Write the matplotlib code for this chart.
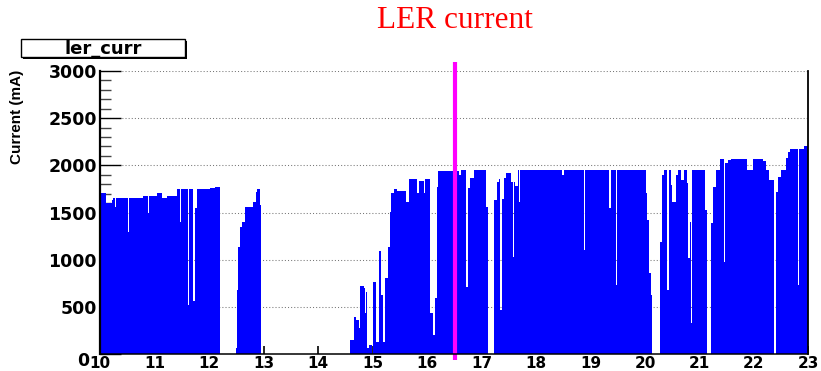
import matplotlib
matplotlib.use("Agg")
import matplotlib.pyplot as plt
from matplotlib import font_manager as fm
from matplotlib.patches import Rectangle
from matplotlib.ticker import MultipleLocator
from matplotlib.transforms import ScaledTranslation

# ---------------- data ----------------
# step-wise LER current: start hour of each step and current (mA) held until the next step
hours = [
    10.00, 10.105, 10.21, 10.233, 10.27, 10.288, 10.362, 10.509, 10.528, 10.785,
    10.877, 10.895, 10.95, 11.042, 11.134, 11.226, 11.41, 11.465, 11.483, 11.612,
    11.63, 11.704, 11.73, 11.778, 12.017, 12.108, 12.20,
    12.489, 12.507, 12.537, 12.568, 12.61, 12.66, 12.81, 12.862, 12.886, 12.936, 12.954,
    14.59, 14.651, 14.70, 14.743, 14.761, 14.835, 14.86, 14.871, 14.897, 14.926,
    14.99, 15.00, 15.062, 15.123, 15.16, 15.191, 15.233, 15.276, 15.312, 15.344,
    15.386, 15.449, 15.62, 15.662, 15.816, 15.846, 15.938, 15.969, 16.061, 16.11,
    16.153, 16.18, 16.195, 16.58, 16.625, 16.722, 16.754, 16.796, 16.857, 17.072,
    17.114, 17.224, 17.274, 17.316, 17.338, 17.366, 17.408, 17.44, 17.544, 17.577,
    17.596, 17.605, 17.666, 17.679, 17.697, 18.482, 18.511, 18.873, 18.892, 19.338,
    19.37, 19.461, 19.493, 20.013, 20.044, 20.074, 20.105, 20.123, 20.276, 20.32,
    20.35, 20.41, 20.441, 20.473, 20.504, 20.565, 20.607, 20.656, 20.717, 20.767,
    20.794, 20.822, 20.84, 20.86, 20.871, 21.097, 21.147, 21.208, 21.25, 21.30,
    21.379, 21.447, 21.465, 21.515, 21.575, 21.87, 21.974, 22.158, 22.219, 22.283,
    22.36, 22.403, 22.445, 22.495, 22.586, 22.617, 22.665, 22.80, 22.831, 22.923,
    22.985, 23.00,
]
current_ma = [
    1704, 1598, 1633, 1651, 1560, 1651, 1658, 1294, 1651, 1675,
    1495, 1675, 1679, 1704, 1658, 1675, 1750, 1403, 1750, 520,
    1750, 560, 1548, 1746, 1760, 1774, 0,
    60, 680, 1138, 1350, 1403, 1555, 1615, 1721, 1750, 1580, 0,
    150, 396, 360, 275, 721, 697, 435, 661, 60, 95,
    0, 767, 130, 1092, 626, 130, 803, 1138, 1509, 1704,
    1746, 1732, 1615, 1853, 1707, 1838, 1707, 1853, 431, 200,
    590, 1774, 1944, 1898, 1951, 714, 1757, 1863, 1951, 1562,
    0, 1633, 1827, 1853, 467, 1640, 1863, 1916, 1827, 1032,
    1827, 1781, 1951, 1615, 1951, 1898, 1951, 1103, 1951, 1545,
    1951, 732, 1951, 1704, 1421, 856, 626, 0, 1191, 1898,
    1951, 679, 1951, 1792, 1615, 1898, 1951, 1845, 1951, 1810,
    1015, 1403, 325, 1403, 1951, 1527, 0, 1386, 1774, 1951,
    2068, 979, 2022, 2057, 2068, 1951, 2068, 2045, 1951, 1845,
    0, 1721, 1880, 1951, 2075, 2145, 2170, 732, 2170, 2206,
    2227, 2227,
]
marker_hour = 16.52
x_ticks = list(range(10, 24))
y_ticks = [0, 500, 1000, 1500, 2000, 2500, 3000]
title_text = "LER current"
legend_text = "ler_curr"
ylabel_text = "Current (mA)"

# ---------------- fonts ----------------
names = {f.name for f in fm.fontManager.ttflist}
narrow = "Liberation Sans Narrow" if "Liberation Sans Narrow" in names else "Liberation Sans"

W, H = 821, 371
fig = plt.figure(figsize=(W / 100, H / 100), dpi=100)
fig.patch.set_facecolor("white")

x0, x1 = 100.3, 808.4
y0, y1 = 354.0, 71.0
ax = fig.add_axes([x0 / W, 1 - y0 / H, (x1 - x0) / W, (y0 - y1) / H])

ax.fill_between(hours, current_ma, step="post", color="#0000ff", lw=0, zorder=2)

ax.set_xlim(10, 23)
ax.set_ylim(0, 3000)

# marker line (extends beyond the frame)
ax.plot([marker_hour, marker_hour], [-65, 3095], color="#ff00ff", lw=3,
        clip_on=False, zorder=5, solid_capstyle="butt")

# grid
ax.yaxis.grid(True, linestyle=(0, (1, 2)), color="#777777", lw=0.75, zorder=1)
ax.set_axisbelow(True)

ax.set_xticks(x_ticks)
ax.set_xticklabels([str(v) for v in x_ticks])
ax.set_yticks(y_ticks)
ax.set_yticklabels([str(v) for v in y_ticks])
ax.yaxis.set_minor_locator(MultipleLocator(100))

ax.tick_params(axis="y", which="major", direction="in", length=15, width=1,
               color="black", pad=2.5)
ax.tick_params(axis="y", which="minor", direction="in", length=8, width=1,
               color="#444444")
ax.tick_params(axis="x", which="major", direction="in", length=6, width=1.2,
               color="black", pad=1.5)
ax.tick_params(axis="x", which="minor", length=0)

for lab in ax.get_yticklabels():
    lab.set_fontfamily("DejaVu Sans")
    lab.set_fontweight("bold")
    lab.set_fontsize(12.5)
for lab in ax.get_xticklabels():
    lab.set_fontfamily("DejaVu Sans")
    lab.set_fontweight("bold")
    lab.set_fontsize(11)

# the "0" label of the y axis sits a little lower/left, beside the "10" of the x axis
zero_lab = ax.get_yticklabels()[0]
zero_lab.set_transform(zero_lab.get_transform() +
                       ScaledTranslation(-8 / 100, -5 / 100, fig.dpi_scale_trans))

ax.spines["top"].set_visible(False)
ax.spines["left"].set_linewidth(1.6)
ax.spines["bottom"].set_linewidth(1.1)
ax.spines["right"].set_linewidth(1.3)
for s in ("left", "bottom", "right"):
    ax.spines[s].set_color("black")
    ax.spines[s].set_zorder(6)

# title
fig.text(455 / W, 1 - 28.3 / H, title_text, ha="center", va="baseline",
         fontsize=22.5, family="Liberation Serif", color="#ff0000")

# y label
fig.text(17 / W, 1 - 69.5 / H, ylabel_text, rotation=90, ha="center", va="top",
         fontsize=11, family=narrow, fontweight="bold", color="black")

# legend-style box
bx0, bx1, by0, by1 = 21.0, 185.0, 39.0, 57.0
fig.patches.append(Rectangle((bx0 / W + 1.5 / W, 1 - (by1 + 1.5) / H),
                             (bx1 - bx0) / W, (by1 - by0) / H,
                             transform=fig.transFigure, facecolor="black",
                             edgecolor="none", zorder=1))
fig.patches.append(Rectangle((bx0 / W, 1 - by1 / H), (bx1 - bx0) / W, (by1 - by0) / H,
                             transform=fig.transFigure, facecolor="white",
                             edgecolor="black", lw=1.0, zorder=2))
fig.text((bx0 + bx1) / 2 / W, 1 - 53.5 / H, legend_text, ha="center", va="baseline",
         fontsize=13, family="DejaVu Sans", fontweight="bold", color="black", zorder=3)

fig.savefig("out.png", dpi=100, facecolor="white")
